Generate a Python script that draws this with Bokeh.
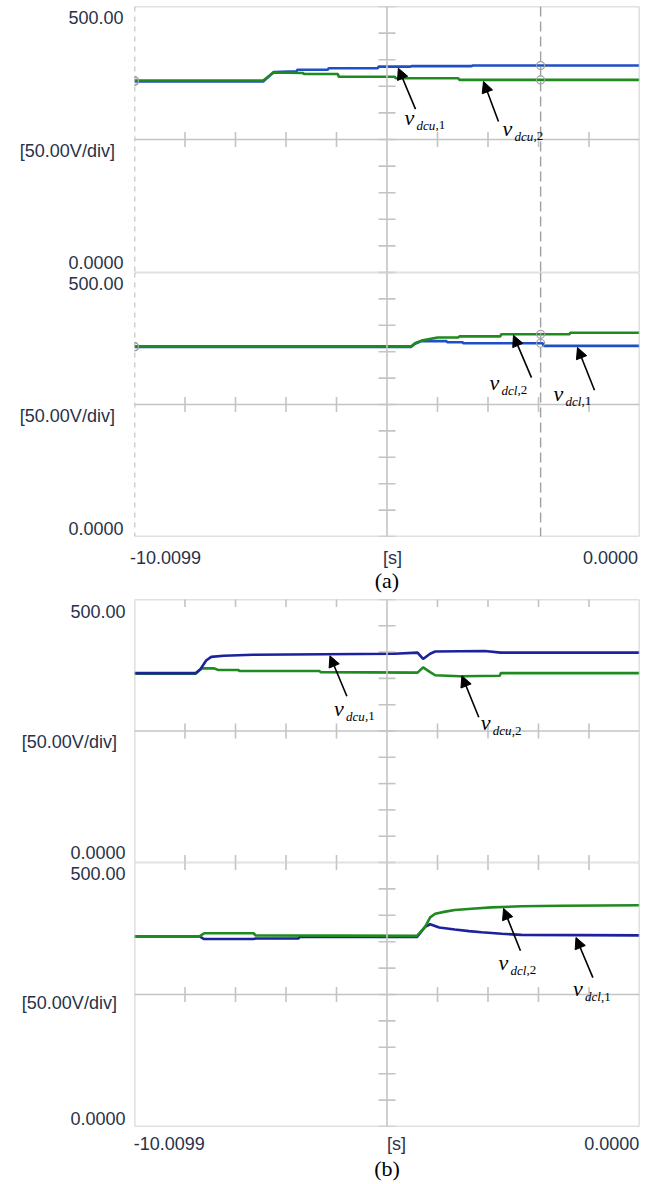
import numpy as np
from bokeh.plotting import figure
from bokeh.layouts import column
from bokeh.models import (Range1d, Span, Label, Arrow, NormalHead, FixedTicker,
                          CustomJSTickFormatter, LinearAxis)
from bokeh.embed import file_html
from bokeh.resources import INLINE

# ---------------- data (time in s, voltage in V) ----------------
T_START, T_END = -10.0099, 0.0
V_MIN, V_MAX = 0.0, 500.0
V_STEP = 50.0
N_XDIV = 10
T_CURSOR = -1.96

# (a) upper sub-plot
a_dcu1_t = [-10.0099, -7.46, -7.25, -6.80, -6.78, -6.18, -6.16, -5.19, -5.17, -4.54, -4.52, -3.33, -3.31, 0.0]
a_dcu1_v = [359, 359, 377, 378, 381, 381, 384, 384, 387, 387, 388, 388, 389, 389]
a_dcu2_t = [-10.0099, -7.46, -7.25, -6.67, -6.65, -5.98, -5.96, -4.85, -4.83, -3.59, -3.57, 0.0]
a_dcu2_v = [361, 361, 376, 375, 373, 373, 368, 368, 365, 365, 362, 362]
# (a) lower sub-plot
a_dcl1_t = [-10.0099, -4.53, -4.45, -4.32, -3.83, -3.81, -3.51, -3.49, -1.92, -1.90, 0.0]
a_dcl1_v = [359, 359, 365, 370, 370, 368, 368, 366, 366, 361, 361]
a_dcl2_t = [-10.0099, -4.53, -4.45, -4.32, -4.16, -4.00, -3.59, -3.57, -2.76, -2.74, -1.39, -1.37, 0.0]
a_dcl2_v = [360, 360, 366, 371, 374, 377, 377, 379, 379, 383, 383, 386, 386]
# (b) upper sub-plot
b_dcu1_t = [-10.0099, -8.80, -8.70, -8.59, -8.49, -8.24, -7.66, -4.86, -4.40, -4.29, -4.15, -4.05, -3.07, -2.75, 0.0]
b_dcu1_v = [360, 360, 368, 384, 391, 393, 395, 397, 399, 387, 397, 401, 402, 399, 399]
b_dcu2_t = [-10.0099, -8.80, -8.68, -8.43, -8.35, -7.95, -7.93, -6.34, -6.32, -4.40, -4.29, -4.15, -4.05, -3.56, -2.77, -2.75, 0.0]
b_dcu2_v = [359, 359, 369, 369, 366, 366, 364, 364, 362, 361, 371, 362, 356, 354, 355, 360, 360]
# (b) lower sub-plot
b_dcl1_t = [-10.0099, -8.72, -8.63, -7.65, -7.61, -6.76, -6.74, -4.41, -4.25, -4.15, -3.97, -3.66, -3.38, -3.13, -2.73, -2.34, 0.0]
b_dcl1_v = [360, 360, 355, 355, 356, 356, 359, 359, 378, 383, 377, 373, 370, 368, 365, 363, 362]
b_dcl2_t = [-10.0099, -8.72, -8.63, -7.65, -7.61, -4.41, -4.25, -4.15, -4.05, -3.85, -3.66, -3.26, -2.93, -2.34, -1.55, 0.0]
b_dcl2_v = [360, 360, 366, 366, 362, 361, 378, 396, 403, 407, 410, 413, 415, 417, 418, 419]

# tick labels
y_top_label = "500.00"
y_mid_label = "[50.00V/div]"
y_bot_label = "0.0000"
x_left_label = "-10.0099"
x_mid_label = "[s]"
x_right_label = "0.0000"

# ---------------- styles ----------------
GRID = "#c4c4c4"
CURSOR = "#a0a0a0"
BLUE_A = "#1f4fc6"
BLUE_B = "#1c229e"
GREEN = "#1f8a1f"
TXT = "#27324a"
SANS = "Liberation Sans"
SERIF = "Liberation Serif"
T_MID = (T_START + T_END) / 2
PAD = "\u00a0\u2009"


def make_fig(height, left, frame_w, top, bottom):
    p = figure(width=650, height=height,
               x_range=Range1d(T_START, T_END), y_range=Range1d(V_MIN, V_MAX),
               x_axis_type=None, y_axis_type=None, toolbar_location=None,
               output_backend="svg", min_border_left=left,
               min_border_right=650 - left - frame_w,
               min_border_top=top, min_border_bottom=bottom)
    p.outline_line_color = None
    p.background_fill_color = "white"
    p.border_fill_color = "white"
    p._fh = height - top - bottom
    p._fw = frame_w
    return p


def frame_lines(p, top=True, bottom=True, dashed_left=False, edge_ticks=()):
    w = 1.6
    if top:
        p.add_layout(Span(location=V_MAX, dimension="width", line_color=GRID, line_width=w))
    if bottom:
        p.add_layout(Span(location=V_MIN, dimension="width", line_color=GRID, line_width=w))
    p.add_layout(Span(location=T_END, dimension="height", line_color=GRID, line_width=w))
    if dashed_left:
        p.add_layout(Span(location=T_START, dimension="height", line_color=CURSOR,
                          line_width=1.5, line_dash="5 5"))
    else:
        p.add_layout(Span(location=T_START, dimension="height", line_color=GRID, line_width=w))
    p.add_layout(Span(location=(V_MIN + V_MAX) / 2, dimension="width", line_color=GRID, line_width=w))
    p.add_layout(Span(location=T_MID, dimension="height", line_color=GRID, line_width=w))
    dt = (T_END - T_START) / N_XDIV
    xt = [T_START + k * dt for k in range(1, N_XDIV) if k != N_XDIV // 2]
    for yy in [(V_MIN + V_MAX) / 2] + list(edge_ticks):
        p.scatter(x=xt, y=[yy] * len(xt), marker="dash", angle=np.pi / 2, size=15,
                  line_color=GRID, line_width=1.6)
    yt = np.arange(V_MIN, V_MAX + 1, V_STEP)
    p.scatter(x=[T_MID] * len(yt), y=yt, marker="dash", size=17, line_color=GRID, line_width=1.6)


def y_axis(p, off_top, off_mid, off_bot, gap):
    vpp = (V_MAX - V_MIN) / p._fh
    ticks = [V_MIN + off_bot * vpp, (V_MIN + V_MAX) / 2 - off_mid * vpp, V_MAX - off_top * vpp]
    fmt = CustomJSTickFormatter(
        args=dict(top=y_top_label, mid=y_mid_label + PAD, bot=y_bot_label),
        code="return tick > 375 ? top : (tick > 125 ? mid : bot)")
    ax = LinearAxis(ticker=FixedTicker(ticks=ticks), formatter=fmt,
                    axis_line_color=None, major_tick_line_color=None,
                    minor_tick_line_color=None, major_tick_out=0, major_tick_in=0,
                    minor_tick_out=0, minor_tick_in=0, major_label_standoff=gap,
                    major_label_text_font=SANS, major_label_text_font_size="18px",
                    major_label_text_color=TXT)
    p.add_layout(ax, "left")


def x_axis(p, dy, left_px, mid_px, right_px, cap, cap_standoff):
    tpp = (T_END - T_START) / p._fw
    ticks = [T_START + left_px * tpp, T_START + mid_px * tpp, T_START + right_px * tpp]
    fmt = CustomJSTickFormatter(
        args=dict(l=x_left_label, m=x_mid_label, r=x_right_label),
        code="return tick < -7 ? l : (tick < -2 ? m : r)")
    ax = LinearAxis(ticker=FixedTicker(ticks=ticks), formatter=fmt,
                    axis_line_color=None, major_tick_line_color=None,
                    minor_tick_line_color=None, major_tick_out=0, major_tick_in=0,
                    minor_tick_out=0, minor_tick_in=0, major_label_standoff=dy,
                    major_label_text_font=SANS, major_label_text_font_size="18px",
                    major_label_text_color=TXT, axis_label=cap,
                    axis_label_text_font=SERIF, axis_label_text_font_size="22px",
                    axis_label_text_font_style="normal", axis_label_text_color="black",
                    axis_label_standoff=cap_standoff)
    p.add_layout(ax, "below")


def annot(p, tail, head, vpos, sub, num):
    p.add_layout(Arrow(x_start=tail[0], y_start=tail[1], x_end=head[0], y_end=head[1],
                       line_color="black", line_width=1.6,
                       end=NormalHead(size=11, fill_color="black", line_color="black", line_width=1)))
    p.add_layout(Label(x=vpos[0], y=vpos[1], text="v", text_font=SERIF, text_font_style="italic",
                       text_font_size="22px", text_color="black", text_align="left",
                       text_baseline="middle"))
    sy_off = -8
    p.add_layout(Label(x=vpos[0], x_offset=12, y=vpos[1], y_offset=sy_off, text=sub,
                       text_font=SERIF, text_font_style="italic", text_font_size="13px",
                       text_color="black", text_align="left", text_baseline="middle"))
    wsub = 19 if sub == "dcu" else 16
    p.add_layout(Label(x=vpos[0], x_offset=12 + wsub, y=vpos[1], y_offset=sy_off, text="," + num,
                       text_font=SERIF, text_font_size="13px", text_color="black",
                       text_align="left", text_baseline="middle"))


def cursor(p, series):
    p.add_layout(Span(location=T_CURSOR, dimension="height", line_color=CURSOR,
                      line_width=1.4, line_dash="10 5"))
    ys = [float(np.interp(T_CURSOR, t, v)) for t, v in series]
    p.scatter(x=[T_CURSOR] * len(ys), y=ys, marker="circle", size=8, fill_color=None,
              line_color=CURSOR, line_width=1.2)
    y0 = [v[0] for _, v in series]
    p.scatter(x=[T_START] * len(y0), y=y0, marker="circle", size=8, fill_color=None,
              line_color=CURSOR, line_width=1.2)


LW = 2.6

# ---------- panel (a) ----------
a1 = make_fig(272, 134, 505, 6, 0)
frame_lines(a1, top=True, bottom=True, dashed_left=True)
a1.line(a_dcu1_t, a_dcu1_v, line_color=BLUE_A, line_width=LW)
a1.line(a_dcu2_t, a_dcu2_v, line_color=GREEN, line_width=LW)
cursor(a1, [(a_dcu1_t, a_dcu1_v), (a_dcu2_t, a_dcu2_v)])
y_axis(a1, 11, 11, 9, 11)
annot(a1, (-4.44, 307), (-4.78, 384), (-4.658, 292), "dcu", "1")
annot(a1, (-2.795, 284), (-3.092, 359), (-2.716, 271), "dcu", "2")

a2 = make_fig(327, 134, 505, 0, 63)
frame_lines(a2, top=True, bottom=True, dashed_left=True)
a2.line(a_dcl1_t, a_dcl1_v, line_color=BLUE_A, line_width=LW)
a2.line(a_dcl2_t, a_dcl2_v, line_color=GREEN, line_width=LW)
cursor(a2, [(a_dcl1_t, a_dcl1_v), (a_dcl2_t, a_dcl2_v)])
y_axis(a2, 11, 11, 8, 11)
x_axis(a2, 11, 31, 258, 476, "(a)", -3)
annot(a2, (-2.141, 301), (-2.498, 381), (-2.973, 292), "dcl", "2")
annot(a2, (-0.892, 277), (-1.229, 358), (-1.705, 271), "dcl", "1")

# ---------- panel (b) ----------
b1 = make_fig(263, 130, 509, 0, 0)
frame_lines(b1, top=True, bottom=True, edge_ticks=(V_MAX, V_MIN))
b1.line(b_dcu2_t, b_dcu2_v, line_color=GREEN, line_width=LW)
b1.line(b_dcu1_t, b_dcu1_v, line_color=BLUE_B, line_width=LW)
y_axis(b1, 12, 11, 7, 9)
annot(b1, (-5.80, 316), (-6.136, 393), (-6.057, 293), "dcu", "1")
annot(b1, (-3.186, 276), (-3.520, 355), (-3.147, 266), "dcu", "2")

b2 = make_fig(322, 130, 509, 0, 58)
frame_lines(b2, top=True, bottom=True, edge_ticks=(V_MAX,))
b2.line(b_dcl1_t, b_dcl1_v, line_color=BLUE_B, line_width=LW)
b2.line(b_dcl2_t, b_dcl2_v, line_color=GREEN, line_width=LW)
y_axis(b2, 11, 8, 8, 9)
x_axis(b2, 7, 35, 264, 481, "(b)", -1)
annot(b2, (-2.36, 333), (-2.694, 413), (-2.793, 311), "dcl", "2")
annot(b2, (-0.924, 282), (-1.259, 358), (-1.318, 261), "dcl", "1")

layout = column(a1, a2, b1, b2, spacing=0)
open("out.html", "w").write(file_html(layout, INLINE))
